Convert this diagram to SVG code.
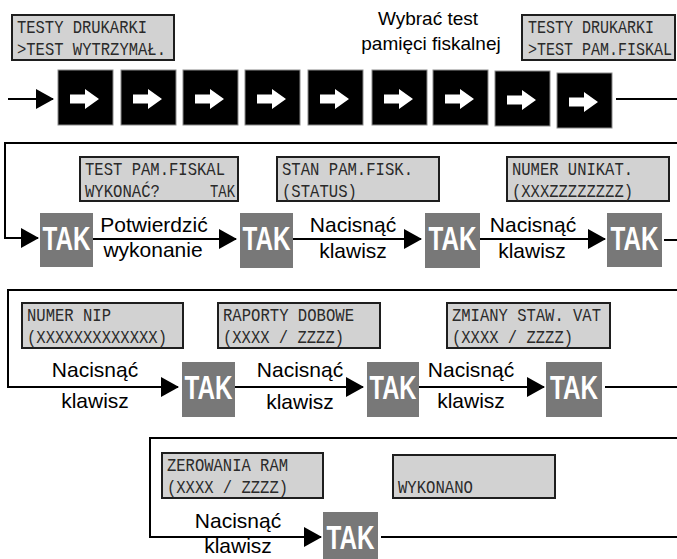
<svg xmlns="http://www.w3.org/2000/svg" width="677" height="559" viewBox="0 0 677 559">
<style>
.lcd rect{fill:#d2d2d2;stroke:#1e1e1e;stroke-width:2}
.lcd text{font-family:"Liberation Mono","DejaVu Sans Mono",monospace;font-size:19px;fill:#2a2a2a}
.lcd text.sm{font-size:15px}
.tak rect{fill:#787878}
.tak text{font-family:"Liberation Sans",Arial,sans-serif;font-weight:bold;font-size:34px;fill:#fff;text-anchor:middle}
.lbl{font-family:"Liberation Sans",Arial,sans-serif;font-size:21px;fill:#000;text-anchor:middle}
.con path,.con line,.con polyline{fill:none;stroke:#000;stroke-width:2}
</style>
<defs>
<marker id="ah" viewBox="0 0 18 20" refX="17" refY="10" markerWidth="18" markerHeight="20" markerUnits="userSpaceOnUse" orient="auto">
<path d="M0,0 L18,10 L0,20 Z" fill="#000"/>
</marker>
<g id="keyshape">
<rect x="0" y="0" width="55" height="55" fill="#000" stroke="#8a8a8a" stroke-width="1"/>
<path d="M12,24.5 H27 V19 L41,29 L27,39 V33.5 H12 Z" fill="#fff"/>
</g>
</defs>

<rect width="677" height="559" fill="#fff"/>

<!-- top row -->
<g id="lcd1" class="lcd"><rect x="12" y="15" width="162" height="45"/>
<text x="17" y="33" textLength="130" lengthAdjust="spacingAndGlyphs">TESTY DRUKARKI</text>
<text x="17" y="55" textLength="149" lengthAdjust="spacingAndGlyphs">&gt;TEST WYTRZYMAŁ.</text></g>
<g id="lcd2" class="lcd"><rect x="522" y="15" width="153" height="45"/>
<text class="sm" transform="translate(528,33) scale(1,1.25)" x="0" y="0">TESTY DRUKARKI</text>
<text class="sm" transform="translate(528,55) scale(1,1.25)" x="0" y="0">&gt;TEST PAM.FISKAL</text></g>
<g id="note1"><text class="lbl" x="428" y="25" style="font-size:19px">Wybrać test</text>
<text class="lbl" x="431" y="50" style="font-size:19px">pamięci fiskalnej</text></g>

<g id="keys">
<use href="#keyshape" x="58" y="70"/>
<use href="#keyshape" x="121" y="70"/>
<use href="#keyshape" x="183" y="70"/>
<use href="#keyshape" x="245" y="70"/>
<use href="#keyshape" x="308" y="70"/>
<use href="#keyshape" x="372" y="70"/>
<use href="#keyshape" x="433" y="70"/>
<use href="#keyshape" x="495" y="71"/>
<use href="#keyshape" x="557" y="73"/>
</g>

<!-- row 2 -->
<g id="lcd3" class="lcd"><rect x="80" y="157" width="158" height="44"/>
<text x="85" y="175" textLength="140" lengthAdjust="spacingAndGlyphs">TEST PAM.FISKAL</text>
<text x="85" y="197" textLength="75" lengthAdjust="spacingAndGlyphs">WYKONAĆ?</text>
<text x="210" y="197" textLength="25" lengthAdjust="spacingAndGlyphs">TAK</text></g>
<g id="lcd4" class="lcd"><rect x="277" y="157" width="162" height="44"/>
<text x="282" y="175" textLength="131" lengthAdjust="spacingAndGlyphs">STAN PAM.FISK.</text>
<text x="282" y="197" textLength="75" lengthAdjust="spacingAndGlyphs">(STATUS)</text></g>
<g id="lcd5" class="lcd"><rect x="507" y="157" width="162" height="44"/>
<text x="512" y="175" textLength="121" lengthAdjust="spacingAndGlyphs">NUMER UNIKAT.</text>
<text x="512" y="197" textLength="121" lengthAdjust="spacingAndGlyphs">(XXXZZZZZZZZ)</text></g>

<g id="tak1" class="tak"><rect x="40" y="213" width="53" height="54"/><text x="66.5" y="250" textLength="48" lengthAdjust="spacingAndGlyphs">TAK</text></g>
<g id="tak2" class="tak"><rect x="240" y="213" width="53" height="55"/><text x="266.5" y="250" textLength="48" lengthAdjust="spacingAndGlyphs">TAK</text></g>
<g id="tak3" class="tak"><rect x="425" y="213" width="55" height="55"/><text x="452.5" y="250" textLength="48" lengthAdjust="spacingAndGlyphs">TAK</text></g>
<g id="tak4" class="tak"><rect x="607" y="213" width="55" height="54"/><text x="634.5" y="250" textLength="48" lengthAdjust="spacingAndGlyphs">TAK</text></g>

<!-- row 3 -->
<g id="lcd6" class="lcd"><rect x="22" y="303" width="161" height="45"/>
<text x="27" y="321" textLength="84" lengthAdjust="spacingAndGlyphs">NUMER NIP</text>
<text x="27" y="343" textLength="140" lengthAdjust="spacingAndGlyphs">(XXXXXXXXXXXXX)</text></g>
<g id="lcd7" class="lcd"><rect x="218" y="303" width="162" height="45"/>
<text x="223" y="321" textLength="131" lengthAdjust="spacingAndGlyphs">RAPORTY DOBOWE</text>
<text x="223" y="343" textLength="121" lengthAdjust="spacingAndGlyphs">(XXXX / ZZZZ)</text></g>
<g id="lcd8" class="lcd"><rect x="447" y="303" width="163" height="45"/>
<text x="452" y="321" textLength="149" lengthAdjust="spacingAndGlyphs">ZMIANY STAW. VAT</text>
<text x="452" y="343" textLength="121" lengthAdjust="spacingAndGlyphs">(XXXX / ZZZZ)</text></g>

<g id="tak5" class="tak"><rect x="182" y="362" width="53" height="55"/><text x="208.5" y="399" textLength="48" lengthAdjust="spacingAndGlyphs">TAK</text></g>
<g id="tak6" class="tak"><rect x="367" y="362" width="52" height="55"/><text x="393" y="399" textLength="47" lengthAdjust="spacingAndGlyphs">TAK</text></g>
<g id="tak7" class="tak"><rect x="546" y="362" width="56" height="55"/><text x="574" y="399" textLength="48" lengthAdjust="spacingAndGlyphs">TAK</text></g>

<!-- row 4 -->
<g id="lcd9" class="lcd"><rect x="162" y="453" width="161" height="45"/>
<text x="167" y="471" textLength="121" lengthAdjust="spacingAndGlyphs">ZEROWANIA RAM</text>
<text x="167" y="493" textLength="121" lengthAdjust="spacingAndGlyphs">(XXXX / ZZZZ)</text></g>
<g id="lcd10" class="lcd"><rect x="393" y="455" width="162" height="43"/>
<text x="398" y="493" textLength="75" lengthAdjust="spacingAndGlyphs">WYKONANO</text></g>

<g id="tak8" class="tak"><rect x="323" y="512" width="55" height="55"/><text x="350.5" y="549" textLength="48" lengthAdjust="spacingAndGlyphs">TAK</text></g>

<!-- connectors -->
<g id="connectors" class="con">
<line x1="8" y1="99" x2="53" y2="99" marker-end="url(#ah)"/>
<line x1="616" y1="99" x2="677" y2="99"/>
<polyline points="677,143 5,143 5,238 38,238" marker-end="url(#ah)"/>
<line x1="93" y1="239" x2="236" y2="239" marker-end="url(#ah)"/>
<line x1="293" y1="239" x2="421" y2="239" marker-end="url(#ah)"/>
<line x1="480" y1="239" x2="605" y2="239" marker-end="url(#ah)"/>
<line x1="664" y1="240" x2="677" y2="240"/>
<polyline points="677,290 8,290 8,387 178,387" marker-end="url(#ah)"/>
<line x1="235" y1="387" x2="363" y2="387" marker-end="url(#ah)"/>
<line x1="419" y1="387" x2="544" y2="387" marker-end="url(#ah)"/>
<line x1="605" y1="387" x2="677" y2="387"/>
<polyline points="677,438 150,438 150,537 321,537" marker-end="url(#ah)"/>
<line x1="381" y1="537" x2="677" y2="537"/>
</g>

<!-- connector labels -->
<g id="labels">
<text class="lbl" x="154" y="232">Potwierdzić</text>
<text class="lbl" x="153" y="257">wykonanie</text>
<text class="lbl" x="353" y="232">Nacisnąć</text>
<text class="lbl" x="353" y="258">klawisz</text>
<text class="lbl" x="533" y="232">Nacisnąć</text>
<text class="lbl" x="532" y="258">klawisz</text>
<text class="lbl" x="95" y="377">Nacisnąć</text>
<text class="lbl" x="95" y="408">klawisz</text>
<text class="lbl" x="300" y="377">Nacisnąć</text>
<text class="lbl" x="300" y="409">klawisz</text>
<text class="lbl" x="471" y="377">Nacisnąć</text>
<text class="lbl" x="471" y="408">klawisz</text>
<text class="lbl" x="238" y="528">Nacisnąć</text>
<text class="lbl" x="238" y="553">klawisz</text>
</g>
</svg>
